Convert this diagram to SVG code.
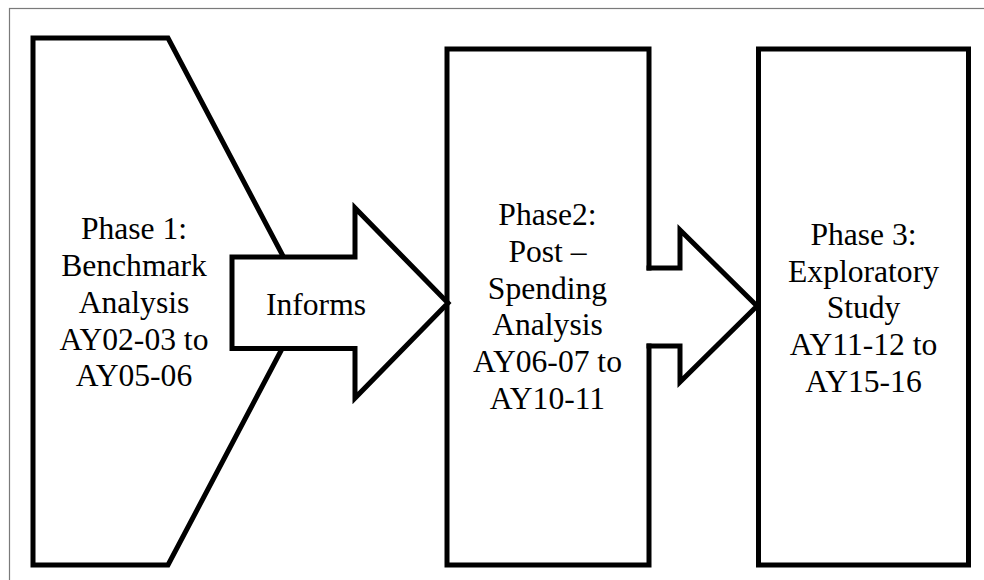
<svg xmlns="http://www.w3.org/2000/svg" width="984" height="580" viewBox="0 0 984 580">
  <style>
    .frame { fill: none; stroke: #7a7a7a; stroke-width: 1.2; }
    .shape { fill: #ffffff; stroke: #000000; stroke-width: 5; stroke-linejoin: miter; stroke-linecap: square; }
    .open { fill: none; stroke: #000000; stroke-width: 5; stroke-linejoin: miter; stroke-linecap: square; }
    text { font-size: 31.6px; fill: #000000; text-anchor: middle; }
  </style>

  <!-- page frame -->
  <rect class="frame" x="9.5" y="8.5" width="1000" height="1000"/>

  <g font-family="Liberation Serif, DejaVu Serif, serif">
  <!-- Phase 1: pentagon pointing right -->
  <g id="phase1">
    <polygon class="shape" points="33,38 168,38 307,301.5 168,565 33,565"/>
    <text x="134" y="239.3">Phase 1:</text>
    <text x="134" y="276">Benchmark</text>
    <text x="134" y="312.8">Analysis</text>
    <text x="134" y="349.6">AY02-03 to</text>
    <text x="134" y="386.4">AY05-06</text>
  </g>

  <!-- Phase 2: box, right side opens into the second arrow -->
  <g id="phase2">
    <rect x="447" y="49" width="202" height="516" fill="#ffffff"/>
    <path class="open" d="M649,268 L649,49 L447,49 L447,565 L649,565 L649,346"/>
    <text x="547.5" y="225">Phase2:</text>
    <text x="547.5" y="262">Post –</text>
    <text x="547.5" y="298.6">Spending</text>
    <text x="547.5" y="335.3">Analysis</text>
    <text x="547.5" y="372">AY06-07 to</text>
    <text x="547.5" y="408.8">AY10-11</text>
  </g>

  <!-- Phase 3 box -->
  <g id="phase3">
    <rect class="shape" x="758.5" y="49" width="210" height="516"/>
    <text x="863.5" y="245">Phase 3:</text>
    <text x="863.5" y="281.7">Exploratory</text>
    <text x="863.5" y="318.4">Study</text>
    <text x="863.5" y="355">AY11-12 to</text>
    <text x="863.5" y="391.8">AY15-16</text>
  </g>

  <!-- block arrows between phases -->
  <g id="connectors">
    <g id="informs">
      <polygon class="shape" points="232,257 355,257 355,208 448,303 355,398 355,348.5 232,348.5"/>
      <text x="316" y="315">Informs</text>
    </g>
    <polyline class="open" points="649,268 680,268 680,230 757,306 680,382 680,346 649,346"/>
  </g>
  </g>
</svg>
